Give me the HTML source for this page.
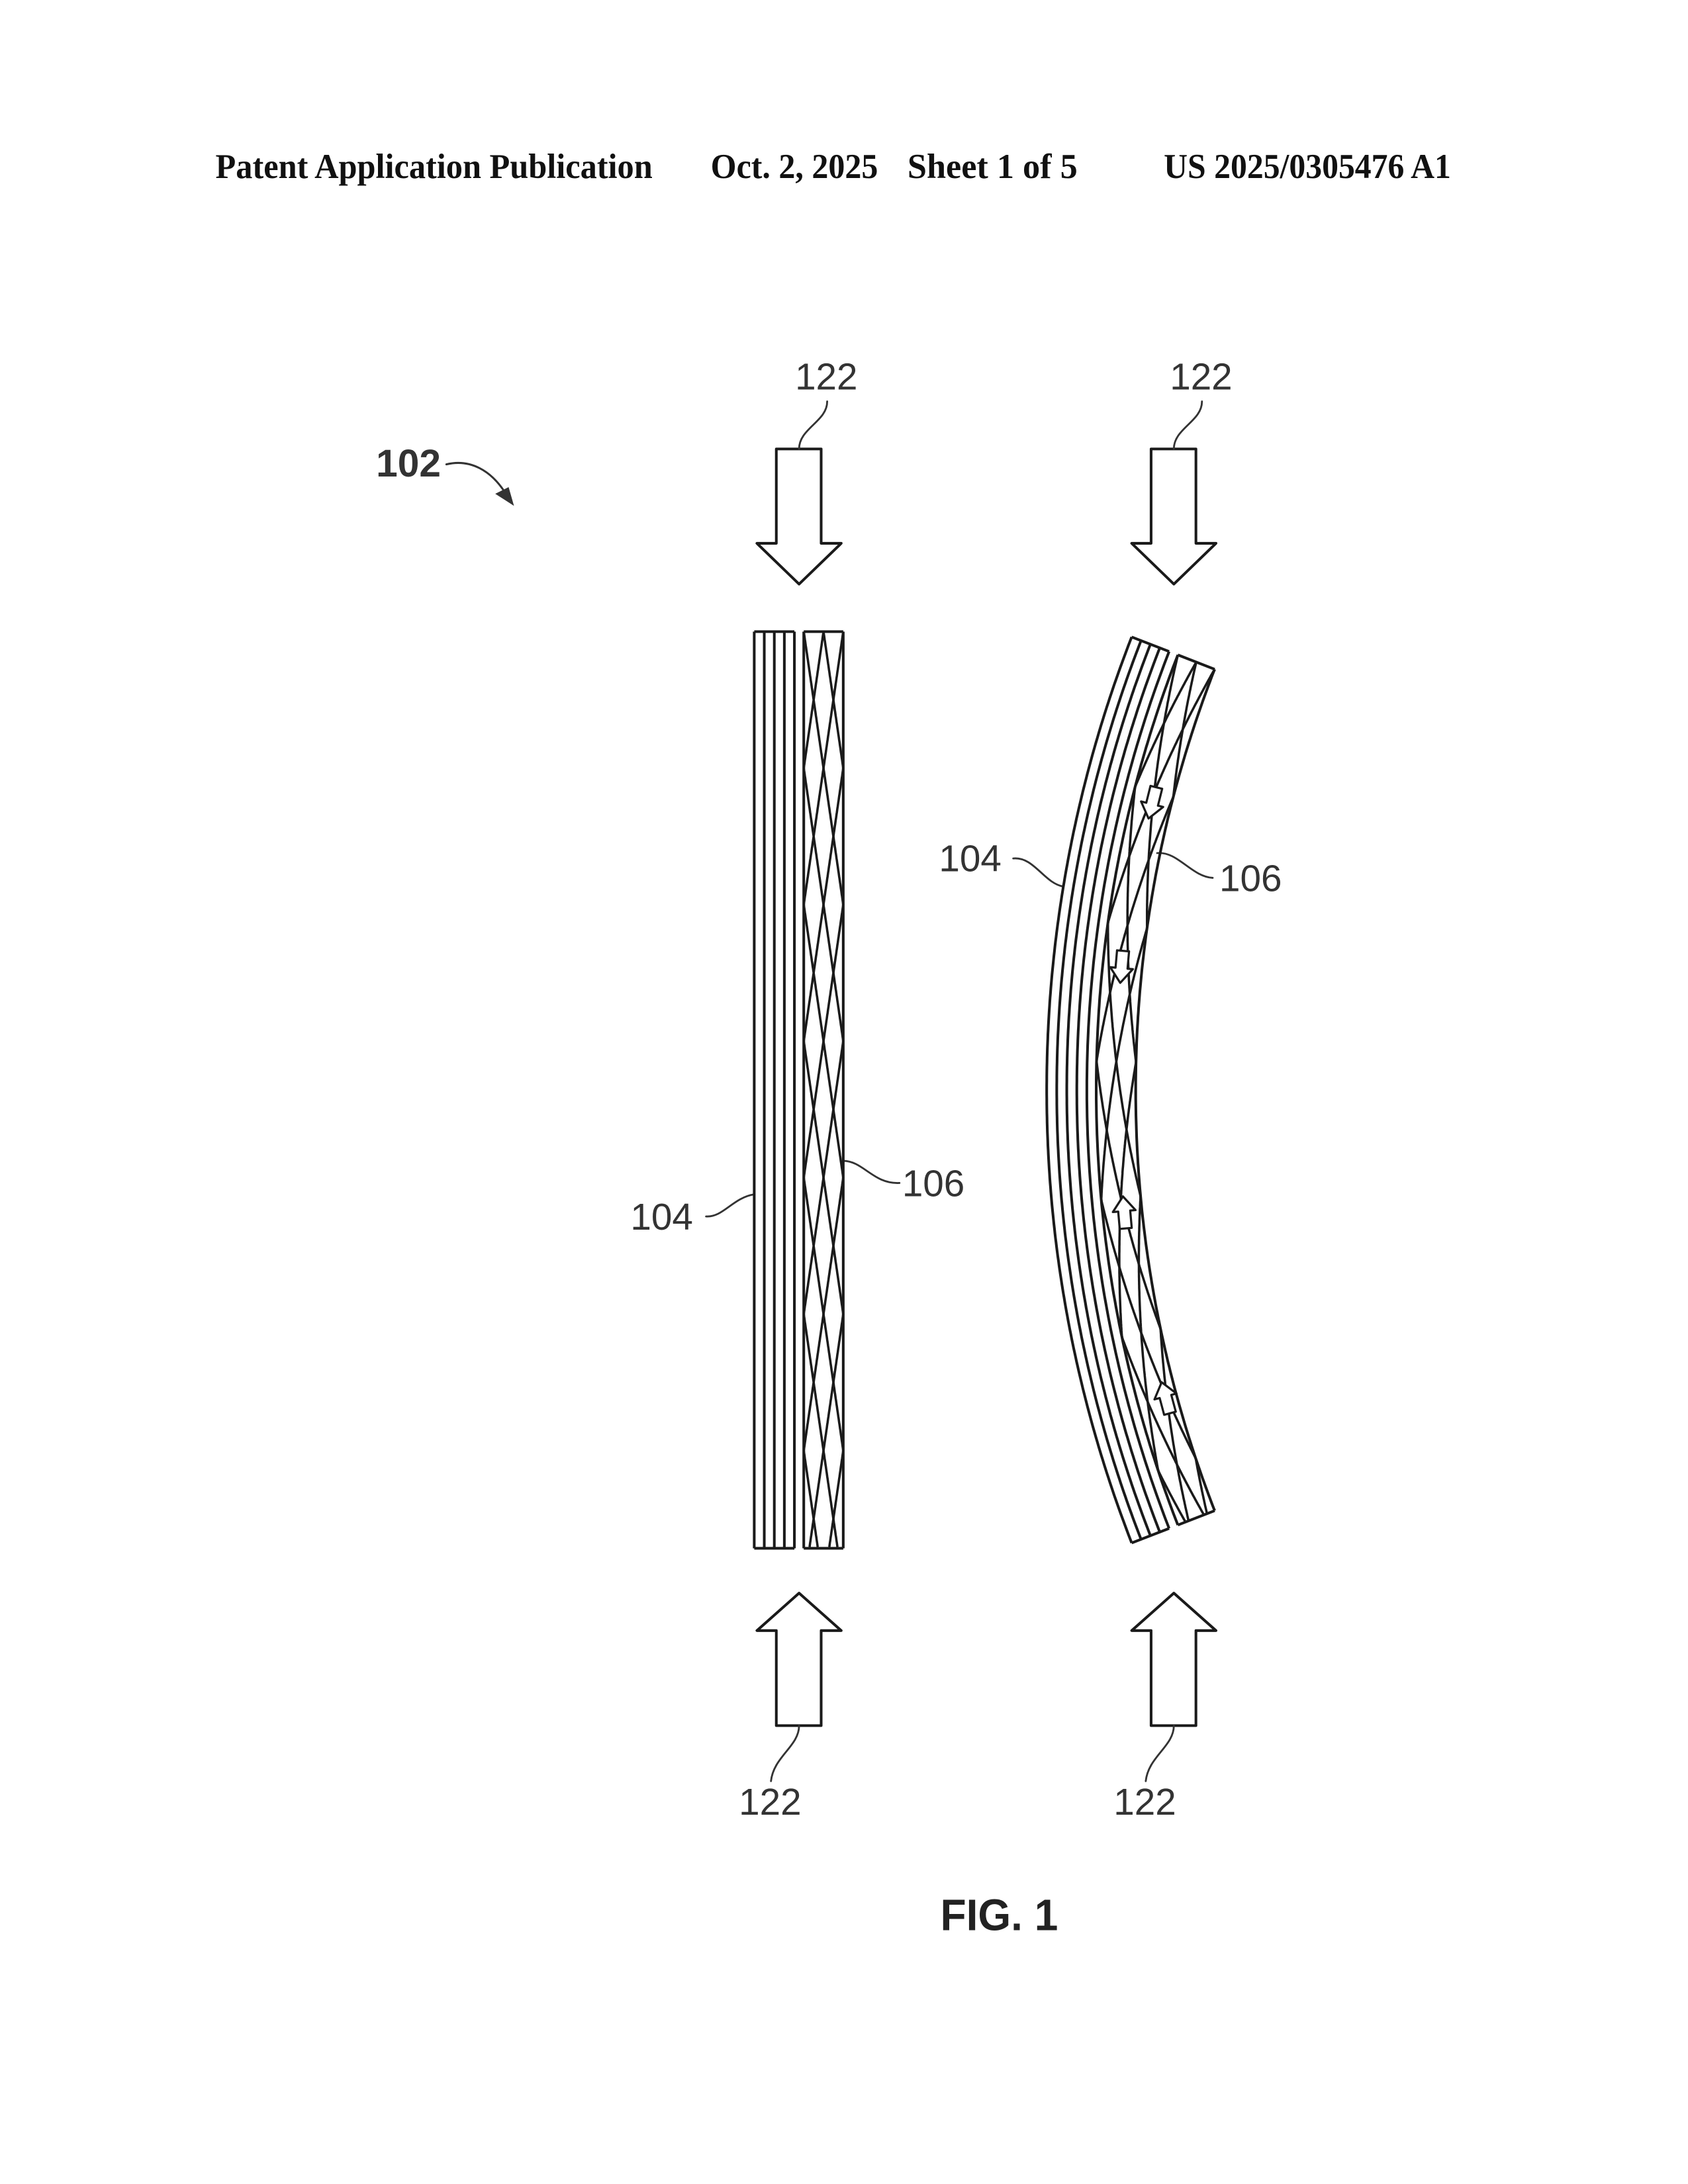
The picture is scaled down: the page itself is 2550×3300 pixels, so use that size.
<!DOCTYPE html>
<html><head><meta charset="utf-8">
<style>
html,body{margin:0;padding:0;background:#fff;}
svg{display:block;}
.hd{font-family:"Liberation Serif",serif;font-weight:bold;font-size:52px;fill:#111;}
.lb{font-family:"Liberation Sans",sans-serif;font-size:56px;fill:#333;}
.ln{fill:none;stroke:#1a1a1a;stroke-width:4;stroke-linecap:round;stroke-linejoin:round;}
.th{fill:none;stroke:#333;stroke-width:2.8;stroke-linecap:round;}
</style></head>
<body>
<svg id="s" width="2550" height="3300" viewBox="0 0 2550 3300" xmlns="http://www.w3.org/2000/svg">
<rect width="2550" height="3300" fill="#fff"/>
<g transform="scale(1.011)">
<text class="hd" x="322" y="266" textLength="653" lengthAdjust="spacingAndGlyphs">Patent Application Publication</text>
<text class="hd" x="1062" y="266" textLength="250" lengthAdjust="spacingAndGlyphs">Oct. 2, 2025</text>
<text class="hd" x="1356" y="266" textLength="254" lengthAdjust="spacingAndGlyphs">Sheet 1 of 5</text>
<text class="hd" x="1739" y="266" textLength="429" lengthAdjust="spacingAndGlyphs">US 2025/0305476 A1</text>

<!-- 102 -->
<text x="562" y="712" style="font-family:'Liberation Sans',sans-serif;font-weight:bold;font-size:58px;fill:#333">102</text>
<path class="th" d="M667 694 C700 686 735 700 760 745" style="stroke-width:3"/>
<polygon points="768,756 740,738 760,728" fill="#333"/>

<!-- big arrows -->
<g class="ln">
<polygon points="1160,671 1227,671 1227,812 1257,812 1194,873 1131,812 1160,812"/>
<polygon points="1720,671 1787,671 1787,812 1817,812 1754,873 1691,812 1720,812"/>
<polygon points="1160,2579 1227,2579 1227,2437 1257,2437 1194,2381 1131,2437 1160,2437"/>
<polygon points="1720,2579 1787,2579 1787,2437 1817,2437 1754,2381 1691,2437 1720,2437"/>
</g>
<!-- labels 122 -->
<text class="lb" x="1188" y="582">122</text>
<text class="lb" x="1748" y="582">122</text>
<text class="lb" x="1104" y="2712">122</text>
<text class="lb" x="1664" y="2712">122</text>
<path class="th" d="M1236 600 C1236 630 1194 640 1194 671"/>
<path class="th" d="M1796 600 C1796 630 1754 640 1754 671"/>
<path class="th" d="M1194 2579 C1194 2610 1156 2625 1152 2662"/>
<path class="th" d="M1754 2579 C1754 2610 1716 2625 1712 2662"/>

<!-- 104/106 labels -->
<text class="lb" x="942" y="1838">104</text>
<path class="th" d="M1055 1818 C1080 1820 1095 1790 1127 1785"/>
<text class="lb" x="1348" y="1788">106</text>
<path class="th" d="M1260 1735 C1290 1735 1305 1770 1344 1768"/>
<text class="lb" x="1403" y="1302">104</text>
<path class="th" d="M1514 1283 C1545 1280 1560 1320 1589 1325"/>
<text class="lb" x="1822" y="1332">106</text>
<path class="th" d="M1729 1275 C1760 1272 1780 1310 1812 1312"/>

<text x="1405" y="2885" style="font-family:'Liberation Sans',sans-serif;font-weight:bold;font-size:66px;fill:#222" textLength="176" lengthAdjust="spacingAndGlyphs">FIG. 1</text>

<g id="draw"></g>

<!-- small arrows in curved strip -->
<g class="ln" style="stroke-width:3.2;fill:#fff">
<g transform="translate(1722,1200) rotate(14)"><polygon points="-9,-24 9,-24 9,2 17,2 0,24 -17,2 -9,2"/></g>
<g transform="translate(1676,1445) rotate(5)"><polygon points="-9,-24 9,-24 9,2 17,2 0,24 -17,2 -9,2"/></g>
<g transform="translate(1680,1812) rotate(-5)"><polygon points="-9,24 9,24 9,-2 17,-2 0,-24 -17,-2 -9,-2"/></g>
<g transform="translate(1742,2089) rotate(-15)"><polygon points="-9,24 9,24 9,-2 17,-2 0,-24 -17,-2 -9,-2"/></g>
</g>
</g>
</svg>
<script>
(function(){
var g=document.getElementById('draw'),NS='http://www.w3.org/2000/svg';
function P(d,w){var p=document.createElementNS(NS,'path');p.setAttribute('d',d);p.setAttribute('fill','none');p.setAttribute('stroke','#1a1a1a');p.setAttribute('stroke-width',w||4);p.setAttribute('stroke-linejoin','round');g.appendChild(p);}
function tri(u){var f=((u%1)+1)%1;return f<0.5?f*2:2-2*f;}
var T=816;
var y0=944,y1=2314;
[1127,1142,1157,1172,1187,1201,1260].forEach(function(x){P('M'+x+' '+y0+'V'+y1);});
P('M1127 '+y0+'H1187M1201 '+y0+'H1260M1127 '+y1+'H1187M1201 '+y1+'H1260');
var L=1201,R=1260;
[0,0.25,0.5,0.75].forEach(function(ph){var d='';for(var y=y0;y<=y1;y+=3){var x=L+(R-L)*tri((y-y0)/T+ph);d+=(d?'L':'M')+x.toFixed(1)+' '+y;}P(d,3.5);});
var cx=3432,cy=1629,Ro=1868,th0=21.25*Math.PI/180;
function pt(r,t){return [(cx-r*Math.cos(t)).toFixed(1),(cy+r*Math.sin(t)).toFixed(1)];}
function arc(r){var d='';for(var i=0;i<=200;i++){var t=-th0+2*th0*i/200;var q=pt(r,t);d+=(d?'L':'M')+q[0]+' '+q[1];}P(d);}
[0,15,30,45,60,74,133].forEach(function(o){arc(Ro-o);});
[-th0,th0].forEach(function(t){var a=pt(Ro,t),b=pt(Ro-60,t),c=pt(Ro-74,t),e=pt(Ro-133,t);P('M'+a.join(' ')+'L'+b.join(' ')+'M'+c.join(' ')+'L'+e.join(' '));});
var rI=Ro-133,rO=Ro-74,rm=(rI+rO)/2;
[0,0.25,0.5,0.75].forEach(function(ph){var d='';for(var i=0;i<=500;i++){var t=-th0+2*th0*i/500;var s=(t+th0)*rm;var r=rO-(rO-rI)*tri(s/T+ph);var q=pt(r,t);d+=(d?'L':'M')+q[0]+' '+q[1];}P(d,3.5);});
})();
</script>
</body></html>
